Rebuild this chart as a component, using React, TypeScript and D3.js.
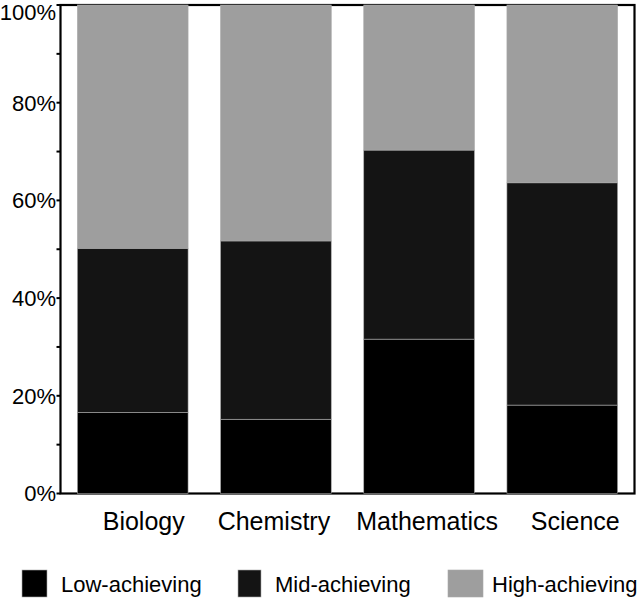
import React from "react";
import * as d3 from "d3";

const categories = ["Biology", "Chemistry", "Mathematics", "Science"];
const seriesNames = ["Low-achieving", "Mid-achieving", "High-achieving"];
const lowValues = [16.6, 15.2, 31.6, 18.1];
const midValues = [33.6, 36.5, 38.7, 45.5];
const highValues = [49.8, 48.3, 29.7, 36.4];
const yTicks = [0, 20, 40, 60, 80, 100];
const yMinorTicks = [10, 30, 50, 70, 90];
const colors = ["#000000", "#141414", "#9e9e9e"];

const W = 644;
const H = 609;
const left = 60.5;
const right = 634.5;
const top = 5;
const bottom = 493.5;
const font = "'Liberation Sans', Arial, Helvetica, sans-serif";

export default function App() {
  const x = d3
    .scaleBand<string>()
    .domain(categories)
    .range([left, right])
    .paddingInner(0.227)
    .paddingOuter(0.118);
  const y = d3.scaleLinear().domain([0, 100]).range([bottom, top]);

  const rows = categories.map((c, i) => ({
    cat: c,
    low: lowValues[i],
    mid: midValues[i],
    high: highValues[i],
  }));
  const stack = d3.stack<any>().keys(["low", "mid", "high"])(rows);

  const labelShift = [11, -2, 8, 13];

  const legendItems = [
    { sx: 22, sw: 25, tx: 61 },
    { sx: 238, sw: 23, tx: 275 },
    { sx: 448, sw: 35, tx: 492 },
  ];

  return (
    <svg width={W} height={H} style={{ position: "absolute", left: 0, top: 0 }}>
      <rect width={W} height={H} fill="#fff" />
      {/* frame */}
      <rect x={left} y={top} width={right - left} height={bottom - top} fill="none" stroke="#000" strokeWidth={2.2} />
      {/* bars */}
      {stack.map((s, si) => (
        <g key={si}>
          {s.map((d: any, i: number) => (
            <rect
              key={i}
              x={x(categories[i])}
              y={y(d[1])}
              width={x.bandwidth()}
              height={y(d[0]) - y(d[1])}
              fill={colors[si]}
              stroke="#a8a8a8"
              strokeWidth={0.6}
            />
          ))}
        </g>
      ))}
      {/* y ticks */}
      {yTicks.map((t) => (
        <g key={t}>
          <line x1={left - 4} x2={left} y1={y(t)} y2={y(t)} stroke="#000" strokeWidth={2} />
          <text
            x={left - 4.5}
            y={Math.max(y(t), 12.5)}
            dy="0.36em"
            textAnchor="end"
            fontFamily={font}
            fontSize={22}
            fill="#000"
          >
            {t}%
          </text>
        </g>
      ))}
      {yMinorTicks.map((t) => (
        <line key={t} x1={left - 4} x2={left} y1={y(t)} y2={y(t)} stroke="#000" strokeWidth={2} />
      ))}
      {/* category labels */}
      {categories.map((c, i) => (
        <text
          key={c}
          x={(x(c) as number) + x.bandwidth() / 2 + labelShift[i]}
          y={530}
          textAnchor="middle"
          fontFamily={font}
          fontSize={25}
          fill="#000"
        >
          {c}
        </text>
      ))}
      {/* legend */}
      {legendItems.map((l, i) => (
        <g key={i}>
          <rect x={l.sx} y={570} width={l.sw} height={27} fill={colors[i]} stroke="#a8a8a8" strokeWidth={0.6} />
          <text x={l.tx} y={592} fontFamily={font} fontSize={22} fill="#000">
            {seriesNames[i]}
          </text>
        </g>
      ))}
    </svg>
  );
}
